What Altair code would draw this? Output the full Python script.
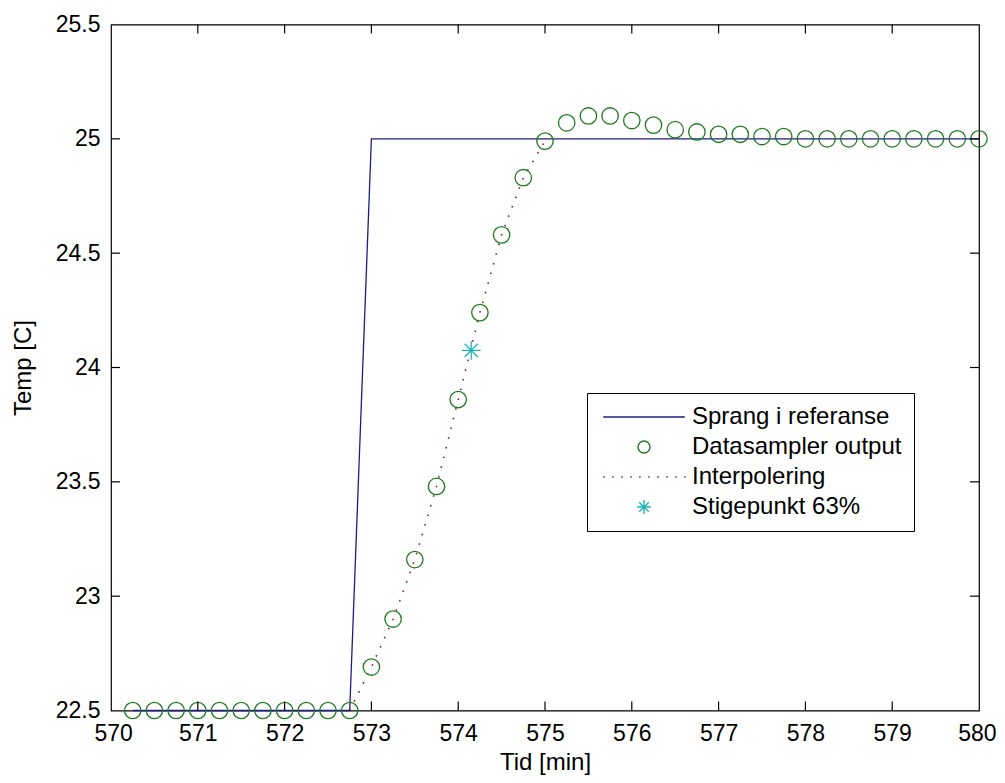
import altair as alt
import pandas as pd

# ---------------- data ----------------
t_samples = [570.25, 570.5, 570.75, 571.0, 571.25, 571.5, 571.75, 572.0, 572.25, 572.5,
             572.75, 573.0, 573.25, 573.5, 573.75, 574.0, 574.25, 574.5, 574.75, 575.0,
             575.25, 575.5, 575.75, 576.0, 576.25, 576.5, 576.75, 577.0, 577.25, 577.5,
             577.75, 578.0, 578.25, 578.5, 578.75, 579.0, 579.25, 579.5, 579.75, 580.0]
temp_samples = [22.5, 22.5, 22.5, 22.5, 22.5, 22.5, 22.5, 22.5, 22.5, 22.5,
                22.5, 22.69, 22.90, 23.16, 23.48, 23.86, 24.24, 24.58, 24.83, 24.99,
                25.07, 25.10, 25.10, 25.08, 25.06, 25.04, 25.03, 25.02, 25.02, 25.01,
                25.01, 25.0, 25.0, 25.0, 25.0, 25.0, 25.0, 25.0, 25.0, 25.0]

ref_t = [570.25, 572.75, 573.0, 580.0]
ref_temp = [22.5, 22.5, 25.0, 25.0]

interp_range = [572.75, 575.0]

star_t = [574.15]
star_temp = [24.075]

x_ticks = [570, 571, 572, 573, 574, 575, 576, 577, 578, 579, 580]
y_ticks = [22.5, 23.0, 23.5, 24.0, 24.5, 25.0, 25.5]

series_names = ["Sprang i referanse", "Datasampler output", "Interpolering", "Stigepunkt 63%"]
series_colors = ["#1c1c86", "#1f7a1f", "#7a2b2b", "#22b5b5"]

# ---------------- styling ----------------
W, H = 868, 686
FONT = "Liberation Sans"
FS = 24
TFS = 23
TICK = 9

line_path = "M-6.8,0L6.8,0"
dot_parts = []
x = -6.8
while x < 6.8:
    dot_parts.append(f"M{x:.2f},0h0.25")
    x += 1.5
dotted_path = "".join(dot_parts)
star_path = ("M-1.15,0L1.15,0M0,-1.15L0,1.15"
             "M-0.8,-0.8L0.8,0.8M-0.8,0.8L0.8,-0.8")

ref_df = pd.DataFrame({"t": ref_t, "temp": ref_temp, "series": series_names[0]})
samp_df = pd.DataFrame({"t": t_samples, "temp": temp_samples, "series": series_names[1]})
interp_df = samp_df[(samp_df.t >= interp_range[0]) & (samp_df.t <= interp_range[1])].assign(
    series=series_names[2])
star_df = pd.DataFrame({"t": star_t, "temp": star_temp, "series": series_names[3]})
points_df = pd.concat([samp_df, star_df], ignore_index=True)

x_scale = alt.Scale(domain=[x_ticks[0], x_ticks[-1]], nice=False, zero=False)
y_scale = alt.Scale(domain=[y_ticks[0], y_ticks[-1]], nice=False, zero=False)
color_scale = alt.Scale(domain=series_names, range=series_colors)
shape_scale = alt.Scale(domain=series_names, range=[line_path, "circle", dotted_path, star_path])

x_axis = alt.Axis(values=x_ticks, title="Tid [min]", format="d", ticks=False, domain=False,
                  grid=False, labelFont=FONT, labelFontSize=TFS, labelColor="black",
                  labelPadding=12, labelFlush=True, labelFlushOffset=17, labelOverlap=False,
                  titleFont=FONT, titleFontSize=FS, titleFontWeight="normal",
                  titleColor="black", titlePadding=5)
y_axis = alt.Axis(values=y_ticks, title="Temp [C]", format="~g", ticks=False, domain=False,
                  grid=False, labelFont=FONT, labelFontSize=TFS, labelColor="black",
                  labelPadding=11, labelFlush=False, labelOverlap=False,
                  titleFont=FONT, titleFontSize=FS, titleFontWeight="normal",
                  titleColor="black", titlePadding=20)

legend = alt.Legend(title=None, orient="none", legendX=476, legendY=368.5,
                    strokeColor="black", fillColor="white", padding=12,
                    labelFont=FONT, labelFontSize=FS, labelColor="black", labelLimit=0,
                    symbolSize=144, symbolStrokeWidth=1.4, symbolOffset=33,
                    labelOffset=36, rowPadding=6, symbolOpacity=1)

X = alt.X("t:Q", scale=x_scale, axis=x_axis)
Y = alt.Y("temp:Q", scale=y_scale, axis=y_axis)
C = alt.Color("series:N", scale=color_scale, legend=legend)

ref_layer = alt.Chart(ref_df).mark_line(strokeWidth=1.3).encode(x=X, y=Y, color=C)

interp_layer = alt.Chart(interp_df).mark_line(strokeWidth=1.6, strokeDash=[1.6, 8.4]).encode(
    x=X, y=Y, color=C)

points_layer = alt.Chart(points_df).mark_point(filled=False, size=270, strokeWidth=1.3,
                                               opacity=1).encode(
    x=X, y=Y, color=C,
    shape=alt.Shape("series:N", scale=shape_scale, legend=legend),
)

xt_df = pd.DataFrame({"t": x_ticks[1:-1]})
yt_df = pd.DataFrame({"temp": y_ticks[1:-1]})

tick_style = dict(color="black", strokeWidth=1.2)
x_bottom_ticks = alt.Chart(xt_df).mark_rule(**tick_style).encode(
    x=X, y=alt.value(H), y2=alt.value(H - TICK))
x_top_ticks = alt.Chart(xt_df).mark_rule(**tick_style).encode(
    x=X, y=alt.value(0), y2=alt.value(TICK))
y_left_ticks = alt.Chart(yt_df).mark_rule(**tick_style).encode(
    y=Y, x=alt.value(0), x2=alt.value(TICK))
y_right_ticks = alt.Chart(yt_df).mark_rule(**tick_style).encode(
    y=Y, x=alt.value(W - TICK), x2=alt.value(W))

chart = alt.layer(
    ref_layer, interp_layer, points_layer,
    x_bottom_ticks, x_top_ticks, y_left_ticks, y_right_ticks,
).properties(
    width=W, height=H,
    autosize=alt.AutoSizeParams(type="none"),
    padding={"left": 103, "top": 16.5, "right": 18, "bottom": 64},
    background="white",
).configure_view(
    stroke="black", strokeWidth=1.2
)

chart.save("out.html", embed_options={"renderer": "svg", "actions": False})
